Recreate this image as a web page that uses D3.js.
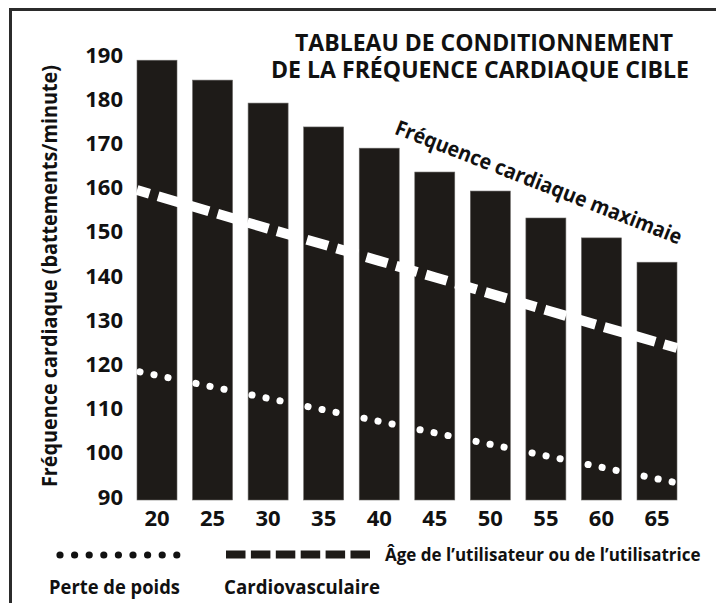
<!DOCTYPE html>
<html>
<head>
<meta charset="utf-8">
<script src="https://cdn.jsdelivr.net/npm/d3@7"></script>
<style>
  body { margin: 0; background: #fff; }
  text { font-family: "Open Sans", "DejaVu Sans", sans-serif; fill: #111; }
</style>
</head>
<body>
<svg width="716" height="603"></svg>
<script>
var svg = d3.select("svg"),
    width = +svg.attr("width"),
    height = +svg.attr("height");

// data
var ages = [20, 25, 30, 35, 40, 45, 50, 55, 60, 65];
var maxRate = [189.5, 185, 179.8, 174.4, 169.6, 164.2, 159.9, 153.8, 149.3, 143.8];
var cardio = [158.8, 155.1, 151.4, 147.8, 144.1, 140.4, 136.7, 133.0, 129.3, 125.7];
var weightLoss = [118.2, 115.6, 113.0, 110.4, 107.8, 105.2, 102.6, 100.0, 97.4, 94.8];
var yTicks = [90, 100, 110, 120, 130, 140, 150, 160, 170, 180, 190];

var x = d3.scaleBand().domain(ages).range([137, 677]).paddingInner(0.28).paddingOuter(0);
var y = d3.scaleLinear().domain([90, 190]).range([500, 58]);

// frame (top + left only)
svg.append("line").attr("x1", 9).attr("x2", width).attr("y1", 9.5).attr("y2", 9.5)
  .attr("stroke", "#2b2b2b").attr("stroke-width", 3);
svg.append("line").attr("x1", 10.5).attr("x2", 10.5).attr("y1", 8).attr("y2", height)
  .attr("stroke", "#2b2b2b").attr("stroke-width", 3);

// bars
svg.append("g").selectAll("rect")
  .data(ages)
  .enter()
  .append("rect")
  .attr("x", d => x(d))
  .attr("width", x.bandwidth())
  .attr("y", (d, i) => y(maxRate[i]))
  .attr("height", (d, i) => y(90) - y(maxRate[i]))
  .attr("fill", "#1e1b18")
  .attr("stroke", "#6a6866")
  .attr("stroke-width", 0.6);

// white lines running across the bars, extended to the outer bar edges
function extended(vals) {
  var pts = ages.map((a, i) => [x(a) + x.bandwidth() / 2, y(vals[i])]);
  var n = pts.length;
  var s0 = (pts[1][1] - pts[0][1]) / (pts[1][0] - pts[0][0]);
  var s1 = (pts[n - 1][1] - pts[n - 2][1]) / (pts[n - 1][0] - pts[n - 2][0]);
  var h = x.bandwidth() / 2;
  pts.unshift([pts[0][0] - h, pts[0][1] - s0 * h]);
  pts.push([pts[n][0] + h, pts[n][1] + s1 * h]);
  return pts;
}
var line = d3.line();

svg.append("path")
  .attr("d", line(extended(cardio)))
  .attr("fill", "none")
  .attr("stroke", "#fff")
  .attr("stroke-width", 10)
  .attr("stroke-dasharray", "22,9")
  .attr("stroke-dashoffset", 9);

svg.append("path")
  .attr("d", line(extended(weightLoss)))
  .attr("fill", "none")
  .attr("stroke", "#fff")
  .attr("stroke-width", 7)
  .attr("stroke-linecap", "round")
  .attr("stroke-dasharray", "0.1,14.2")
  .attr("stroke-dashoffset", -3);

// axes
var yAxis = svg.append("g")
  .attr("transform", "translate(123,-3)")
  .call(d3.axisLeft(y).tickValues(yTicks).tickSize(0).tickPadding(0));
yAxis.select(".domain").remove();
yAxis.selectAll("text")
  .attr("font-size", "22px").attr("font-weight", 700)
  .style("font-family", "'Open Sans', sans-serif").attr("fill", "#111");

var xAxis = svg.append("g")
  .attr("transform", "translate(0,510)")
  .call(d3.axisBottom(x).tickSize(0).tickPadding(0));
xAxis.select(".domain").remove();
xAxis.selectAll("text")
  .attr("font-size", "22px").attr("font-weight", 700)
  .style("font-family", "'Open Sans', sans-serif").attr("fill", "#111");

// title
var title = svg.append("g").attr("font-weight", 700).attr("font-size", "23px").attr("text-anchor", "middle");
title.append("text").attr("x", 484).attr("y", 51)
  .attr("textLength", 378).attr("lengthAdjust", "spacingAndGlyphs")
  .text("TABLEAU DE CONDITIONNEMENT");
title.append("text").attr("x", 480).attr("y", 78)
  .attr("textLength", 418).attr("lengthAdjust", "spacingAndGlyphs")
  .text("DE LA FRÉQUENCE CARDIAQUE CIBLE");

// y axis title
svg.append("text")
  .attr("transform", "translate(57,276) rotate(-90)")
  .attr("text-anchor", "middle")
  .attr("font-size", "21px").attr("font-weight", 700)
  .attr("textLength", 422).attr("lengthAdjust", "spacingAndGlyphs")
  .text("Fréquence cardiaque (battements/minute)");

// sloped label
svg.append("text")
  .attr("transform", "translate(536,189) rotate(21.3)")
  .attr("text-anchor", "middle")
  .attr("font-size", "21px").attr("font-weight", 700)
  .attr("textLength", 306).attr("lengthAdjust", "spacingAndGlyphs")
  .text("Fréquence cardiaque maximaie");

// legend
var leg = svg.append("g").attr("class", "legend");
leg.selectAll("circle")
  .data(d3.range(9))
  .enter()
  .append("circle")
  .attr("cx", d => 60 + d * 14.6)
  .attr("cy", 555)
  .attr("r", 3.6)
  .attr("fill", "#111");
leg.selectAll("rect")
  .data(d3.range(6))
  .enter()
  .append("rect")
  .attr("x", d => 226 + d * 24.9)
  .attr("y", 550.5)
  .attr("width", 19.5)
  .attr("height", 8)
  .attr("fill", "#1e1b18");

leg.append("text").attr("x", 385).attr("y", 561)
  .attr("font-size", "17px").attr("font-weight", 700)
  .text("Âge de l’utilisateur ou de l’utilisatrice");
leg.append("text").attr("x", 49).attr("y", 594)
  .attr("font-size", "19px").attr("font-weight", 700)
  .attr("textLength", 131).attr("lengthAdjust", "spacingAndGlyphs")
  .text("Perte de poids");
leg.append("text").attr("x", 224).attr("y", 594)
  .attr("font-size", "19px").attr("font-weight", 700)
  .attr("textLength", 156).attr("lengthAdjust", "spacingAndGlyphs")
  .text("Cardiovasculaire");
</script>
</body>
</html>
